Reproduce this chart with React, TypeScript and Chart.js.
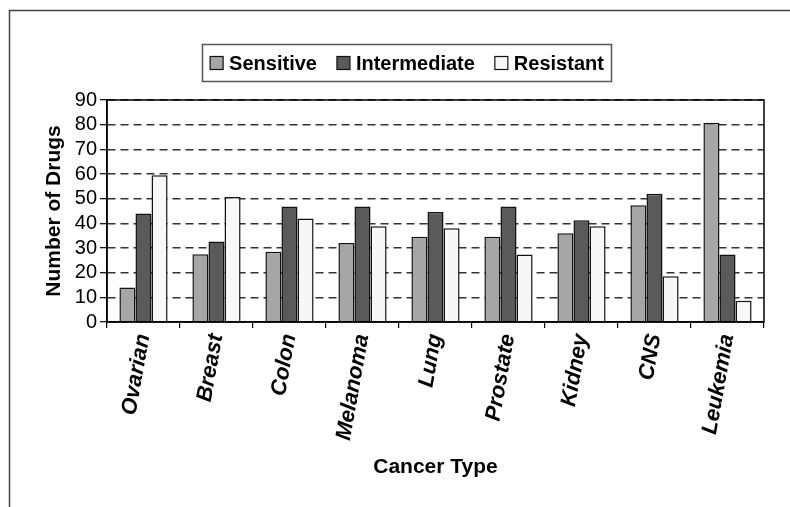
import React, { useEffect, useRef } from 'react';
import { Chart, registerables } from 'chart.js';

Chart.register(...registerables);

const categories = ['Ovarian', 'Breast', 'Colon', 'Melanoma', 'Lung', 'Prostate', 'Kidney', 'CNS', 'Leukemia'];
const sensitive = [14, 27.5, 28.5, 32, 34.6, 34.6, 36, 47.3, 80.8];
const intermediate = [44, 32.6, 46.8, 46.8, 44.6, 46.8, 41.3, 52, 27.4];
const resistant = [59.5, 50.7, 42, 38.8, 38, 27.4, 38.8, 18.5, 8.6];
const seriesNames = ['Sensitive', 'Intermediate', 'Resistant'];
const seriesColors = ['#a6a6a6', '#5a5a5a', '#f7f7f7'];
const yMin = 0;
const yMax = 90;
const yStep = 10;

const FONT = '"Liberation Sans", Arial, Helvetica, sans-serif';

const decor = {
  id: 'decor',
  beforeDraw(chart: any) {
    const ctx = chart.ctx;
    ctx.save();
    ctx.strokeStyle = '#444';
    ctx.lineWidth = 1.5;
    ctx.beginPath();
    ctx.moveTo(9.5, chart.height + 5);
    ctx.lineTo(9.5, 10.5);
    ctx.lineTo(chart.width + 5, 10.5);
    ctx.stroke();
    ctx.restore();
  },
  afterDraw(chart: any) {
    const ctx = chart.ctx;
    const a = chart.chartArea;
    ctx.save();
    ctx.strokeStyle = '#000';
    ctx.lineWidth = 1.5;
    ctx.strokeRect(a.left, a.top, a.right - a.left, a.bottom - a.top);

    ctx.font = `bold 20px ${FONT}`;
    const items = chart.data.datasets.map((ds: any) => ({
      label: ds.label,
      color: ds.backgroundColor,
      w: ctx.measureText(ds.label).width,
    }));
    const box = 13;
    const gapBT = 6;
    const gapItem = 20;
    const total = items.reduce((s: number, it: any) => s + box + gapBT + it.w, 0) + gapItem * (items.length - 1);
    const cx = 407;
    const cy = 63;
    let x = cx - total / 2;
    ctx.strokeStyle = '#555';
    ctx.lineWidth = 1.5;
    ctx.strokeRect(Math.round(x - 8) + 0.5, 44.5, Math.round(total + 15), 37);
    ctx.textBaseline = 'middle';
    ctx.textAlign = 'left';
    for (const it of items) {
      ctx.fillStyle = it.color;
      ctx.fillRect(x, cy - 6.5, box, box);
      ctx.strokeStyle = '#111';
      ctx.lineWidth = 1.2;
      ctx.strokeRect(x, cy - 6.5, box, box);
      ctx.fillStyle = '#000';
      ctx.fillText(it.label, x + box + gapBT, cy + 1);
      x += box + gapBT + it.w + gapItem;
    }
    ctx.restore();
  },
};

export default function App() {
  const ref = useRef<HTMLCanvasElement | null>(null);

  useEffect(() => {
    if (!ref.current) return;
    const values = [sensitive, intermediate, resistant];
    const chart = new Chart(ref.current, {
      type: 'bar',
      data: {
        labels: categories,
        datasets: seriesNames.map((name, i) => ({
          label: name,
          data: values[i],
          backgroundColor: seriesColors[i],
          borderColor: '#111',
          borderWidth: 1.5,
          categoryPercentage: 0.66,
          barPercentage: 1,
        })),
      },
      options: {
        animation: false,
        responsive: false,
        maintainAspectRatio: false,
        layout: { padding: { left: 38, right: 26, top: 100, bottom: 0 } },
        plugins: {
          legend: { display: false },
          tooltip: { enabled: false },
        },
        scales: {
          x: {
            grid: {
              offset: true,
              drawOnChartArea: false,
              drawTicks: true,
              tickLength: 6,
              color: '#000',
              tickColor: '#000',
              lineWidth: 1.2,
            },
            border: { display: true, color: '#000', width: 1.5 },
            ticks: {
              autoSkip: false,
              maxRotation: 80,
              minRotation: 80,
              padding: 4,
              color: '#000',
              font: { family: FONT, size: 22, weight: 'bold', style: 'italic' },
            },
            title: {
              display: true,
              text: 'Cancer Type',
              color: '#000',
              font: { family: FONT, size: 21, weight: 'bold' },
              padding: { top: 4, bottom: 27 },
            },
            afterFit: (s: any) => {
              s.height = 185;
            },
          },
          y: {
            min: yMin,
            max: yMax,
            ticks: {
              autoSkip: false,
              stepSize: yStep,
              padding: 3,
              color: '#000',
              font: { family: FONT, size: 20 },
            },
            grid: {
              color: '#333',
              lineWidth: 1.4,
              tickLength: 7,
              tickColor: '#000',
              tickWidth: 1.2,
            },
            border: { display: true, dash: [8, 5], color: '#000', width: 1.5 },
            title: {
              display: true,
              text: 'Number of Drugs',
              color: '#000',
              font: { family: FONT, size: 21, weight: 'bold' },
              padding: { top: 4, bottom: 4 },
            },
            afterFit: (s: any) => {
              s.width = 69;
            },
          },
        },
      } as any,
      plugins: [decor],
    });
    return () => chart.destroy();
  }, []);

  return (
    <div style={{ position: 'fixed', left: 0, top: 0, width: 790, height: 507, background: '#fff', overflow: 'hidden' }}>
      <canvas ref={ref} width={790} height={507} style={{ display: 'block', width: 790, height: 507 }} />
    </div>
  );
}
